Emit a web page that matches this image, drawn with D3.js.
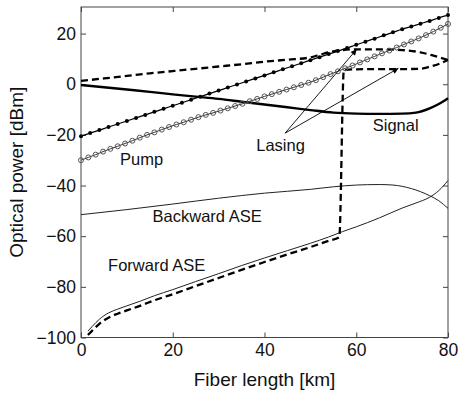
<!DOCTYPE html>
<html>
<head>
<meta charset="utf-8">
<title>Optical power along fiber</title>
<script src="https://d3js.org/d3.v7.min.js"></script>
<style>
  body { margin: 0; background: #fff; }
  svg { display: block; }
  text { font-family: "Liberation Sans", Arial, sans-serif; fill: #111; }
  .tick text { font-size: 17.5px; fill: #111; }
  .tick line { stroke: #444; }
  .axis path.domain { display: none; }
  .title { font-size: 19px; }
  .note { font-size: 16.5px; }
</style>
</head>
<body>
<svg id="chart" width="460" height="394"></svg>
<script>
// ---- data ----
const xTicks = [0, 20, 40, 60, 80];
const yTicks = [-100, -80, -60, -40, -20, 0, 20];

// pump with filled dots
const pumpDotKm = [0, 2, 4, 6, 8, 10, 12, 14, 16, 18, 20, 22, 24, 26, 28, 30, 32, 34, 36, 38, 40,
  42, 44, 46, 48, 50, 52, 54, 56, 58, 60, 62, 64, 66, 68, 70, 72, 74, 76, 78, 80];
const pumpDotDbm = [-20.5, -19.3, -18.1, -16.9, -15.7, -14.5, -13.3, -12.1, -10.9, -9.7, -8.5,
  -7.3, -6.1, -4.9, -3.7, -2.5, -1.3, -0.1, 1.1, 2.3, 3.5, 4.7, 5.9, 7.1, 8.3, 9.5,
  10.7, 11.9, 13.1, 14.3, 15.6, 16.8, 18.0, 19.3, 20.5, 21.7, 22.8, 23.9, 25.0, 26.2, 27.3];

// pump with open circles
const pumpCircKm = [0, 1.6, 3.2, 4.8, 6.4, 8, 9.6, 11.2, 12.8, 14.4, 16, 17.6, 19.2, 20.8, 22.4,
  24, 25.6, 27.2, 28.8, 30.4, 32, 33.6, 35.2, 36.8, 38.4, 40, 41.6, 43.2, 44.8, 46.4, 48,
  49.6, 51.2, 52.8, 54.4, 56, 57.6, 59.2, 60.8, 62.4, 64, 65.6, 67.2, 68.8, 70.4, 72, 73.6,
  75.2, 76.8, 78.4, 80];
const pumpCircDbm = [-30.0, -28.9, -27.8, -26.6, -25.5, -24.5, -23.4, -22.3, -21.1, -20.0,
  -19.0, -17.9, -16.9, -15.9, -15.0, -14.0, -13.0, -12.1, -11.3, -10.4, -9.5, -8.6, -7.7,
  -6.7, -5.8, -4.8, -3.9, -3.0, -2.1, -1.2, -0.3, 0.6, 1.6, 2.8, 4.0, 5.1, 6.3, 7.4, 8.6,
  9.8, 11.0, 12.2, 13.3, 14.5, 15.7, 16.9, 18.1, 19.4, 20.8, 22.3, 23.8];

// signal
const signalKm = [0, 5, 10, 15, 20, 25, 30, 35, 40, 45, 50, 55, 60, 65, 70, 73, 76, 78, 80];
const signalDbm = [-0.3, -1.2, -2.1, -3, -4, -4.9, -5.8, -6.9, -8, -9.1, -10.2, -11.2, -11.6,
  -11.7, -11.6, -11.2, -9.5, -7.8, -5.5];

// backward lasing (upper dashed branch)
const lasingBackKm = [0, 5, 10, 15, 20, 25, 30, 35, 40, 45, 50, 52, 54, 57, 60, 65, 70, 74, 77, 80];
const lasingBackDbm = [1.3, 2.3, 3.3, 4.3, 5.2, 6.1, 7.0, 7.9, 8.9, 9.7, 10.6, 11.6, 12.6,
  13.5, 13.8, 13.8, 13.5, 12.6, 11.2, 9.6];

// forward lasing / ASE (lower dashed, jumps near 57 km)
const lasingFwdKm = [1.5, 2.5, 4, 6, 8, 10, 13, 16, 20, 25, 30, 35, 40, 45, 50, 54, 56.3,
  57.3, 60, 65, 70, 74, 76, 78, 80];
const lasingFwdDbm = [-99, -97.2, -94.6, -92.2, -90.6, -89.3, -87.4, -85.3, -82.9, -79.7,
  -76.5, -73.3, -70.2, -67.2, -64.3, -61.8, -60.4, 5.6, 5.9, 6.0, 6.0, 6.1, 6.9, 8.0, 9.6];

// backward ASE
const backAseKm = [0, 10, 20, 30, 40, 50, 55, 60, 65, 68, 72, 76, 78, 80];
const backAseDbm = [-51.5, -49.5, -47.3, -45, -43, -41.5, -40.5, -39.8, -39.6, -39.8, -41.2,
  -44, -46, -49];

// forward ASE
const fwdAseKm = [1.5, 2.5, 4, 6, 8, 10, 13, 16, 20, 25, 30, 35, 40, 45, 50, 54, 57, 60, 65,
  70, 73, 76, 78, 80];
const fwdAseDbm = [-97.5, -95.5, -92.8, -90.3, -88.8, -87.5, -85.6, -83.5, -81.1, -77.9,
  -74.8, -71.6, -68.6, -65.7, -62.8, -60.3, -58.2, -56.3, -52.8, -48.9, -46.9, -44.6, -42, -38];

// annotation text anchors [km, dBm]
const notes = [
  { text: 'Pump', km: 8.5, dbm: -31.9 },
  { text: 'Signal', km: 63.6, dbm: -18.4 },
  { text: 'Lasing', km: 38.2, dbm: -26.2 },
  { text: 'Backward ASE', km: 15.6, dbm: -54.4 },
  { text: 'Forward ASE', km: 5.9, dbm: -73.9 }
];
// arrows from the "Lasing" label to both lasing branches
const arrowFrom = [44.5, -19.3];
const arrowTips = [[60.1, 13.8], [69.2, 6.3]];

// ---- chart ----
const svg = d3.select('#chart');
const plotLeft = 81, plotRight = 448, plotTop = 7, plotBottom = 337.5;

const x = d3.scaleLinear().domain([0, 80]).range([plotLeft, plotRight]);
const y = d3.scaleLinear().domain([-100, 30.5]).range([plotBottom, plotTop]);

const zip = (a, b) => a.map((v, i) => [v, b[i]]);
const line = d3.line().x(d => x(d[0])).y(d => y(d[1])).curve(d3.curveMonotoneX);

svg.append('defs').append('marker')
  .attr('id', 'head')
  .attr('viewBox', '0 0 10 10')
  .attr('refX', 10).attr('refY', 5)
  .attr('markerWidth', 10).attr('markerHeight', 6)
  .attr('markerUnits', 'userSpaceOnUse')
  .attr('orient', 'auto')
  .append('path').attr('d', 'M0,0 L10,5 L0,10 Z').attr('fill', '#000');

// axes: ticks pointing inward on all four sides
svg.append('g').attr('class', 'axis')
  .attr('transform', `translate(0,${plotBottom})`)
  .call(d3.axisBottom(x).tickValues(xTicks).tickSize(-5).tickPadding(6).tickFormat(d3.format('d')));
svg.append('g').attr('class', 'axis')
  .attr('transform', `translate(0,${plotTop})`)
  .call(d3.axisTop(x).tickValues(xTicks).tickSize(-5).tickFormat(''));
svg.append('g').attr('class', 'axis')
  .attr('transform', `translate(${plotLeft},0)`)
  .call(d3.axisLeft(y).tickValues(yTicks).tickSize(-5).tickPadding(5)
    .tickFormat(d => d < 0 ? '\u2212' + Math.abs(d) : d));
svg.append('g').attr('class', 'axis')
  .attr('transform', `translate(${plotRight},0)`)
  .call(d3.axisRight(y).tickValues(yTicks).tickSize(-5).tickFormat(''));

svg.append('rect')
  .attr('x', plotLeft).attr('y', plotTop)
  .attr('width', plotRight - plotLeft).attr('height', plotBottom - plotTop)
  .attr('fill', 'none').attr('stroke', '#444').attr('stroke-width', 1);

const plot = svg.append('g');

// thin ASE curves
plot.append('path').attr('d', line(zip(backAseKm, backAseDbm)))
  .attr('fill', 'none').attr('stroke', '#222').attr('stroke-width', 1);
plot.append('path').attr('d', line(zip(fwdAseKm, fwdAseDbm)))
  .attr('fill', 'none').attr('stroke', '#222').attr('stroke-width', 1);

// lasing dashed
plot.append('path').attr('d', line(zip(lasingFwdKm, lasingFwdDbm)))
  .attr('fill', 'none').attr('stroke', '#000').attr('stroke-width', 2.3)
  .attr('stroke-dasharray', '7,4');
plot.append('path').attr('d', line(zip(lasingBackKm, lasingBackDbm)))
  .attr('fill', 'none').attr('stroke', '#000').attr('stroke-width', 2.3)
  .attr('stroke-dasharray', '7,4');

// signal
plot.append('path').attr('d', line(zip(signalKm, signalDbm)))
  .attr('fill', 'none').attr('stroke', '#000').attr('stroke-width', 2.4);

// pump with open circles
const circData = zip(pumpCircKm, pumpCircDbm);
plot.append('path').attr('d', line(circData))
  .attr('fill', 'none').attr('stroke', '#333').attr('stroke-width', 1);
plot.selectAll('circle.open').data(circData).enter().append('circle')
  .attr('class', 'open')
  .attr('cx', d => x(d[0])).attr('cy', d => y(d[1])).attr('r', 2.5)
  .attr('fill', 'none').attr('stroke', '#555').attr('stroke-width', 1);

// pump with filled dots
const dotData = zip(pumpDotKm, pumpDotDbm);
plot.append('path').attr('d', line(dotData))
  .attr('fill', 'none').attr('stroke', '#000').attr('stroke-width', 1.2);
plot.selectAll('circle.dot').data(dotData).enter().append('circle')
  .attr('class', 'dot')
  .attr('cx', d => x(d[0])).attr('cy', d => y(d[1])).attr('r', 2)
  .attr('fill', '#000');

// arrows
arrowTips.forEach(t => {
  plot.append('line')
    .attr('x1', x(arrowFrom[0])).attr('y1', y(arrowFrom[1]))
    .attr('x2', x(t[0])).attr('y2', y(t[1]))
    .attr('stroke', '#000').attr('stroke-width', 0.9)
    .attr('marker-end', 'url(#head)');
});

// labels
svg.selectAll('text.note').data(notes).enter().append('text')
  .attr('class', 'note')
  .attr('x', d => x(d.km)).attr('y', d => y(d.dbm))
  .text(d => d.text);

svg.append('text').attr('class', 'title')
  .attr('x', (plotLeft + plotRight) / 2).attr('y', 386)
  .attr('text-anchor', 'middle')
  .text('Fiber length [km]');

svg.append('text').attr('class', 'title')
  .attr('transform', `translate(23,${(plotTop + plotBottom) / 2}) rotate(-90)`)
  .attr('text-anchor', 'middle')
  .text('Optical power [dBm]');
</script>
</body>
</html>
